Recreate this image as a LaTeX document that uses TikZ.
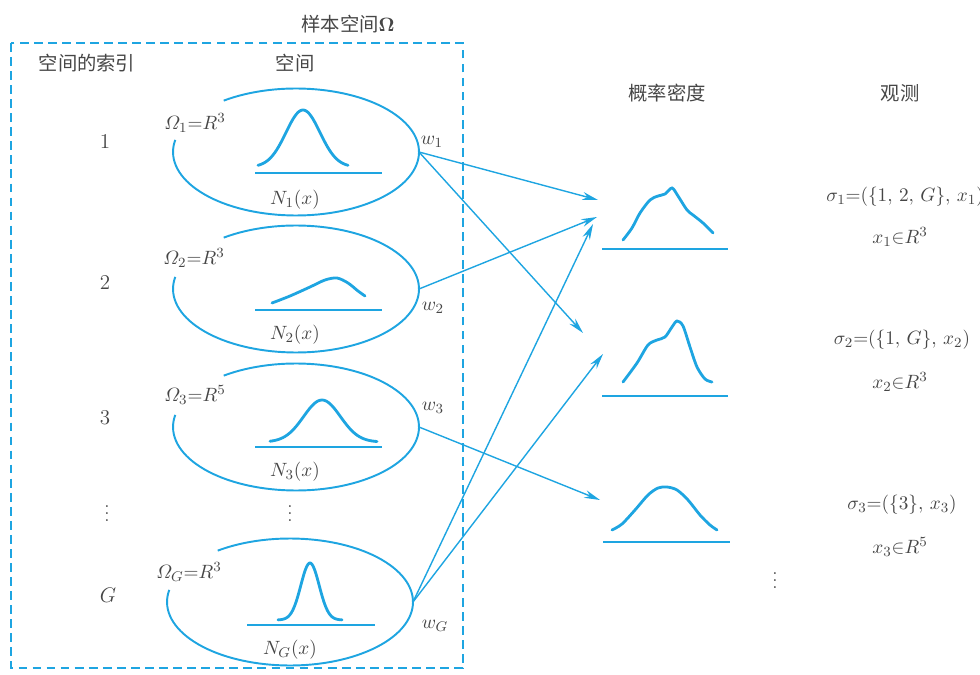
\documentclass[tikz,border=0pt]{standalone}
\usepackage{amsmath}
\usepackage[no-math]{fontspec}
\newfontfamily\cjk{Noto Sans CJK SC}
\usepackage{xcolor}
\usepackage{tikz}
\usetikzlibrary{arrows.meta,calc,positioning,shapes.geometric}
\definecolor{figblue}{RGB}{30,165,225}
\definecolor{txtgray}{RGB}{70,70,70}

\begin{document}
\begin{tikzpicture}[x=0.02cm,y=0.02cm,font=\fontsize{11}{13}\selectfont,>=Stealth,
  every node/.style={text=txtgray},
  spaceell/.style={ellipse,minimum width=4.92cm,minimum height=2.56cm,inner sep=0pt,outer sep=0pt},
  denbox/.style={minimum width=2.6cm,minimum height=1.3cm,inner sep=0pt,outer sep=0pt},
  idx/.style={font=\large},
  rim/.style={figblue,line width=1.1pt},
  pdf/.style={figblue,line width=1.6pt,line cap=round},
  baseln/.style={figblue,line width=1.1pt},
  link/.style={figblue,line width=0.8pt,-{Stealth[length=9pt,width=4.5pt]}}]
\useasboundingbox (0,0) rectangle (980,-675);
% sample space frame
\draw[figblue,line width=1pt,dash pattern=on 5pt off 3pt] (11,-43) rectangle (463,-668);
\node (title) at (348,-24) {\cjk 样本空间$\mathbf{\Omega}$};
\node (hidx) at (87,-63) {\cjk 空间的索引};
\node (hspc) at (295,-63) {\cjk 空间};
\node (hden) at (667,-93) {\cjk 概率密度};
\node (hobs) at (900,-93) {\cjk 观测};
% the spaces
\foreach \n/\cx/\cy in {1/296/152,2/296/289,3/296/427,G/290/602}{
  \node[spaceell] (sp\n) at (\cx,-\cy) {};
  \draw[rim] (sp\n.center) ++(126:2.46cm and 1.27cm) arc[start angle=126,end angle=-191,x radius=2.46cm,y radius=1.27cm];
}
\node[idx] (ix1) at (105,-141) {1};
\node[idx] (ix2) at (105,-282) {2};
\node[idx] (ix3) at (105,-418) {3};
\node (ixd) at (107,-508) {$\vdots$};
\node[idx] (ixG) at (108,-595) {$G$};
\node (om1) at (195,-123) {$\varOmega_1{=}R^3$};
\node (om2) at (194,-258) {$\varOmega_2{=}R^3$};
\node (om3) at (195,-395) {$\varOmega_3{=}R^5$};
\node (omG) at (189,-572) {$\varOmega_G{=}R^3$};
\node (w1) at (432,-142) {$w_1$};
\node (w2) at (433,-308) {$w_2$};
\node (w3) at (433,-408) {$w_3$};
\node (wG) at (435,-626) {$w_G$};
\node (n1) at (295,-200) {$N_1(x)$};
\node (n2) at (295,-335) {$N_2(x)$};
\node (n3) at (295,-472) {$N_3(x)$};
\node (nG) at (290,-650) {$N_G(x)$};
\node (spd) at (290,-508) {$\vdots$};
% component densities
\draw[baseln] (255,-173) -- (382,-173);
\draw[pdf] plot[domain=258:348,samples=50] (\x,{-167+57*exp(-((\x-303)/24)^2)});
\draw[baseln] (255,-310) -- (382,-310);
\draw[pdf] plot[smooth] coordinates {(272,-303) (290,-296) (310,-287) (325,-280) (337,-278) (348,-283) (358,-291) (365,-296)};
\draw[baseln] (255,-447) -- (382,-447);
\draw[pdf] plot[domain=270:377,samples=50] (\x,{-442+42*exp(-((\x-322)/26)^2)});
\draw[baseln] (247,-625) -- (375,-625);
\draw[pdf] plot[domain=278:342,samples=50] (\x,{-620+57*exp(-((\x-310)/13)^2)});
% mixed densities
\node[denbox] (den1) at (666,-220) {};
\node[denbox] (den2) at (666,-368) {};
\node[denbox] (den3) at (666,-515) {};
\draw[baseln] (602,-249) -- (728,-249);
\draw[pdf] plot[smooth] coordinates {(623,-240) (632,-228) (640,-213) (650,-200) (658,-196) (665,-194) (672,-188) (678,-196) (687,-210) (693,-215) (703,-223) (713,-233)};
\draw[baseln] (602,-396) -- (728,-396);
\draw[pdf] plot[smooth] coordinates {(623,-382) (637,-363) (648,-345) (657,-340) (665,-337) (672,-327) (677,-321) (683,-326) (690,-347) (697,-367) (705,-379) (712,-382)};
\draw[baseln] (603,-542) -- (730,-542);
\draw[pdf] plot[smooth] coordinates {(612,-530) (622,-524) (635,-510) (648,-495) (658,-488) (667,-487) (677,-490) (688,-500) (700,-515) (710,-525) (717,-530)};
% observations
\node (obs1) at (905,-197) {$\sigma_1{=}(\{1,\,2,\,G\},\,x_1)$};
\node (dom1) at (900,-237) {$x_1{\in}R^3$};
\node (obs2) at (902,-340) {$\sigma_2{=}(\{1,\,G\},\,x_2)$};
\node (dom2) at (900,-382) {$x_2{\in}R^3$};
\node (obs3) at (902,-505) {$\sigma_3{=}(\{3\},\,x_3)$};
\node (dom3) at (900,-547) {$x_3{\in}R^5$};
\node (obsd) at (775,-575) {$\vdots$};
% weights to densities
\draw[link] (sp1.east) -- ($(den1.west)+(-3,20)$);
\draw[link] (sp1.east) -- ($(den2.west)+(-18,35)$);
\draw[link] (sp2.east) -- ($(den1.west)+(-4,3)$);
\draw[link] (sp3.east) -- ($(den3.west)+(-1,15)$);
\draw[link] (spG.east) -- ($(den1.west)+(-8,-4)$);
\draw[link] (spG.east) -- ($(den2.west)+(2,14)$);
\end{tikzpicture}
\end{document}
